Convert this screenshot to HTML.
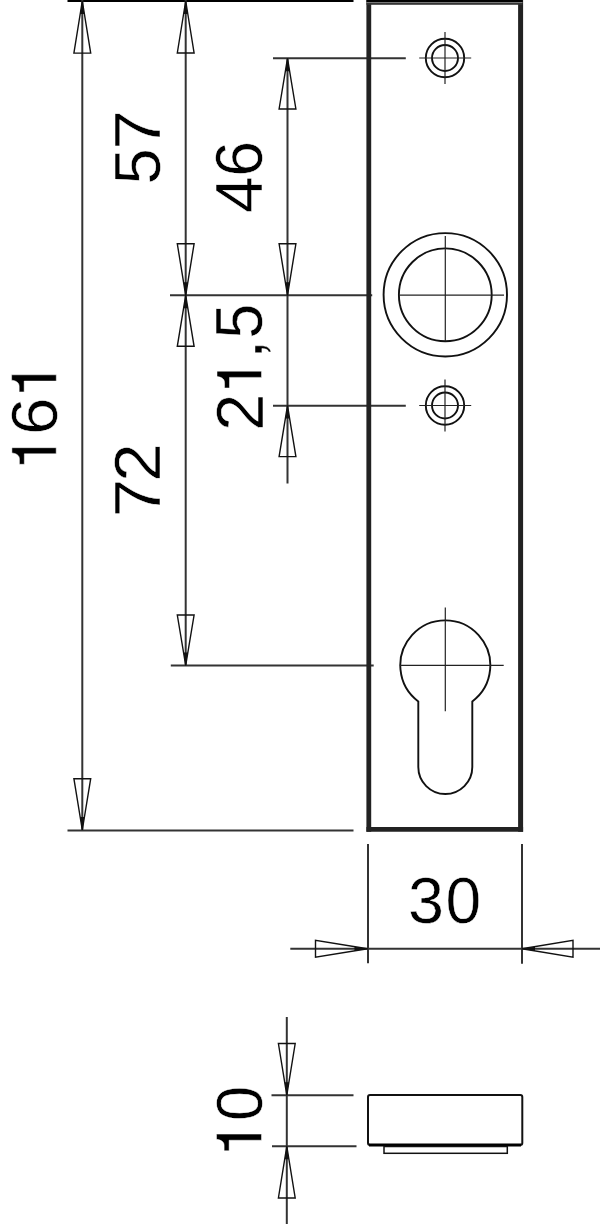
<!DOCTYPE html>
<html><head><meta charset="utf-8"><style>
html,body{margin:0;padding:0;background:#fff;}
svg{display:block;}
.dl{stroke:#333;stroke-width:2.0;}
.tl{stroke:#000;stroke-width:2.6;}
.cl{stroke:#222;stroke-width:1.2;}
.ar{fill:none;stroke:#111;stroke-width:1.4;stroke-linejoin:miter;}
.pl{fill:none;stroke:#2a2a2a;stroke-width:4.2;stroke-linejoin:round;}
.at{fill:#111;stroke:none;}
.ci{fill:none;stroke:#111;stroke-width:1.9;}
.sv{fill:none;stroke:#111;stroke-width:2;}
.sp{fill:none;stroke:#111;stroke-width:1.5;}
.gt{font-family:"Liberation Sans",sans-serif;font-size:64px;fill:#000;stroke:#fff;stroke-width:0.5;vector-effect:non-scaling-stroke;}
.gl{fill:#000;stroke:#fff;stroke-width:0.5;vector-effect:non-scaling-stroke;}
</style></head><body>
<svg width="600" height="1224" viewBox="0 0 600 1224">
<rect width="600" height="1224" fill="#fff"/>
<g>
<line class="tl" x1="67.5" y1="0.6" x2="353.5" y2="0.6"/>
<line class="dl" x1="67.5" y1="830.5" x2="353.5" y2="830.5"/>
<line class="dl" x1="82.3" y1="0" x2="82.3" y2="830.5"/>
<line class="dl" x1="185.7" y1="0" x2="185.7" y2="665.4"/>
<line class="dl" x1="170" y1="295.3" x2="372.2" y2="295.3"/>
<line class="dl" x1="170.8" y1="665.4" x2="373.7" y2="665.4"/>
<line class="dl" x1="287.5" y1="58.3" x2="287.5" y2="483.6"/>
<line class="dl" x1="273" y1="58.3" x2="405.8" y2="58.3"/>
<line class="dl" x1="273" y1="405.7" x2="405.8" y2="405.7"/>
<path class="ar" d="M82.3 1 L73.89999999999999 53.1 L90.7 53.1 Z"/><path class="at" d="M82.3 1 L80.20 14.0 L84.40 14.0 Z"/>
<path class="ar" d="M82.3 830 L73.89999999999999 778.7 L90.7 778.7 Z"/><path class="at" d="M82.3 830 L80.17 817.0 L84.43 817.0 Z"/>
<path class="ar" d="M185.7 1 L177.29999999999998 53 L194.1 53 Z"/><path class="at" d="M185.7 1 L183.60 14.0 L187.80 14.0 Z"/>
<path class="ar" d="M185.7 295.3 L177.29999999999998 243.8 L194.1 243.8 Z"/><path class="at" d="M185.7 295.3 L183.58 282.3 L187.82 282.3 Z"/>
<path class="ar" d="M185.7 295.3 L177.29999999999998 346.3 L194.1 346.3 Z"/><path class="at" d="M185.7 295.3 L183.56 308.3 L187.84 308.3 Z"/>
<path class="ar" d="M185.7 665.4 L177.29999999999998 615 L194.1 615 Z"/><path class="at" d="M185.7 665.4 L183.53 652.4 L187.87 652.4 Z"/>
<path class="ar" d="M287.5 58.3 L279.1 109 L295.9 109 Z"/><path class="at" d="M287.5 58.3 L285.35 71.3 L289.65 71.3 Z"/>
<path class="ar" d="M287.5 295.3 L279.1 243.8 L295.9 243.8 Z"/><path class="at" d="M287.5 295.3 L285.38 282.3 L289.62 282.3 Z"/>
<path class="ar" d="M287.5 405.6 L279.1 456.6 L295.9 456.6 Z"/><path class="at" d="M287.5 405.6 L285.36 418.6 L289.64 418.6 Z"/>
<line x1="368.8" y1="0" x2="368.8" y2="831.8" stroke="#222" stroke-width="4.8"/>
<line x1="520.6" y1="0" x2="520.6" y2="831.8" stroke="#222" stroke-width="5.0"/>
<line x1="366.4" y1="829.4" x2="523.1" y2="829.4" stroke="#222" stroke-width="4.8"/>
<rect x="366.5" y="0" width="156" height="2" fill="#000"/>
<rect x="366.5" y="2" width="156" height="1" fill="#777"/>
<rect x="366.5" y="3" width="156" height="1.8" fill="#333"/>
<circle class="ci" cx="445" cy="58.0" r="19.2"/>
<circle class="ci" cx="445" cy="58.0" r="13.0"/>
<line class="cl" x1="419.2" y1="58.0" x2="471.2" y2="58.0"/>
<line class="cl" x1="445" y1="32.0" x2="445" y2="84.0"/>
<circle class="ci" cx="445" cy="405.5" r="19.2"/>
<circle class="ci" cx="445" cy="405.5" r="13.0"/>
<line class="cl" x1="419.2" y1="405.5" x2="471.2" y2="405.5"/>
<line class="cl" x1="445" y1="379.5" x2="445" y2="431.5"/>
<circle class="ci" cx="445.3" cy="294.8" r="61.7"/>
<circle class="ci" cx="445.3" cy="294.8" r="46.4"/>
<line class="cl" x1="398.7" y1="295.2" x2="504" y2="295.2"/>
<line class="cl" x1="445.3" y1="236" x2="445.3" y2="341.3"/>
<path class="ci" d="M418.3 701.40 A45.0 45.0 0 1 1 472.3 701.40 L472.3 767.0 A27.0 27.0 0 0 1 418.3 767.0 Z"/>
<line class="cl" x1="399.8" y1="665.4" x2="503.7" y2="665.4"/>
<line class="cl" x1="445.3" y1="607.5" x2="445.3" y2="711.3"/>
<line class="dl" x1="368" y1="844" x2="368" y2="963.3"/>
<line class="dl" x1="522" y1="844" x2="522" y2="963.7"/>
<line class="dl" x1="290.3" y1="948.8" x2="600" y2="948.8"/>
<path class="ar" d="M367.5 948.8 L315.5 940.4 L315.5 957.1999999999999 Z"/><path class="at" d="M367.5 948.8 L354.5 946.70 L354.5 950.90 Z"/>
<path class="ar" d="M522 948.8 L573 940.4 L573 957.1999999999999 Z"/><path class="at" d="M522 948.8 L535.0 946.66 L535.0 950.94 Z"/>
<line class="dl" x1="286.8" y1="1017" x2="286.8" y2="1224"/>
<line class="dl" x1="271.5" y1="1095.2" x2="353.5" y2="1095.2"/>
<line class="dl" x1="272" y1="1146.3" x2="356.5" y2="1146.3"/>
<path class="ar" d="M286.8 1095.2 L278.40000000000003 1043.5 L295.2 1043.5 Z"/><path class="at" d="M286.8 1095.2 L284.69 1082.2 L288.91 1082.2 Z"/>
<path class="ar" d="M286.8 1146.3 L278.40000000000003 1198 L295.2 1198 Z"/><path class="at" d="M286.8 1146.3 L284.69 1159.3 L288.91 1159.3 Z"/>
<rect class="sv" x="368" y="1095" width="154.3" height="50" rx="2"/>
<line x1="369" y1="1145" x2="521" y2="1145" stroke="#000" stroke-width="3"/>
<rect class="sp" x="384" y="1146.5" width="123.3" height="6.8"/>
<path class="gl" transform="matrix(0.00000 -0.06360 -0.06248 0.00000 56.200 471.233)" d="M274 0L370 0L370 709L288 709C280 645 255 589 195 589L109 589L109 510L274 510Z"/>
<text class="gt" transform="matrix(0.00000 -1.04974 1.01517 0.00000 56.866 434.912)">6</text>
<path class="gl" transform="matrix(0.00000 -0.06552 -0.06305 0.00000 56.300 399.041)" d="M274 0L370 0L370 709L288 709C280 645 255 589 195 589L109 589L109 510L274 510Z"/>
<text class="gt" transform="matrix(0.00000 -1.01833 1.01889 0.00000 159.763 184.609)">5</text>
<text class="gt" transform="matrix(0.00000 -1.10161 1.01973 0.00000 159.800 149.415)">7</text>
<text class="gt" transform="matrix(0.00000 -1.02946 1.04698 0.00000 262.200 212.912)">4</text>
<text class="gt" transform="matrix(0.00000 -1.00741 1.03062 0.00000 262.156 176.774)">6</text>
<text class="gt" transform="matrix(0.00000 -1.04952 1.03497 0.00000 262.500 430.878)">2</text>
<path class="gl" transform="matrix(0.00000 -0.06437 -0.06276 0.00000 261.500 395.016)" d="M274 0L370 0L370 709L288 709C280 645 255 589 195 589L109 589L109 510L274 510Z"/>
<path class="gl" transform="matrix(0.00000 -0.06635 -0.06504 0.00000 261.894 358.472)" d="M87 106L191 106L191 10C191 -70 160 -125 99 -140L99 -105C135 -95 150 -60 150 0L87 0Z"/>
<text class="gt" transform="matrix(0.00000 -0.98867 1.03457 0.00000 262.453 338.783)">5</text>
<text class="gt" transform="matrix(0.00000 -1.08271 1.01973 0.00000 160.400 517.353)">7</text>
<text class="gt" transform="matrix(0.00000 -1.08039 1.01818 0.00000 160.400 481.677)">2</text>
<text class="gt" transform="matrix(1.01174 0.00000 0.00000 1.02621 408.034 923.359)">3</text>
<text class="gt" transform="matrix(1.00347 0.00000 0.00000 1.02621 445.491 923.359)">0</text>
<path class="gl" transform="matrix(0.00000 -0.06398 -0.06347 0.00000 261.500 1157.774)" d="M274 0L370 0L370 709L288 709C280 645 255 589 195 589L109 589L109 510L274 510Z"/>
<text class="gt" transform="matrix(0.00000 -0.99040 1.01738 0.00000 261.564 1120.976)">0</text>
</g>
</svg>
</body></html>
